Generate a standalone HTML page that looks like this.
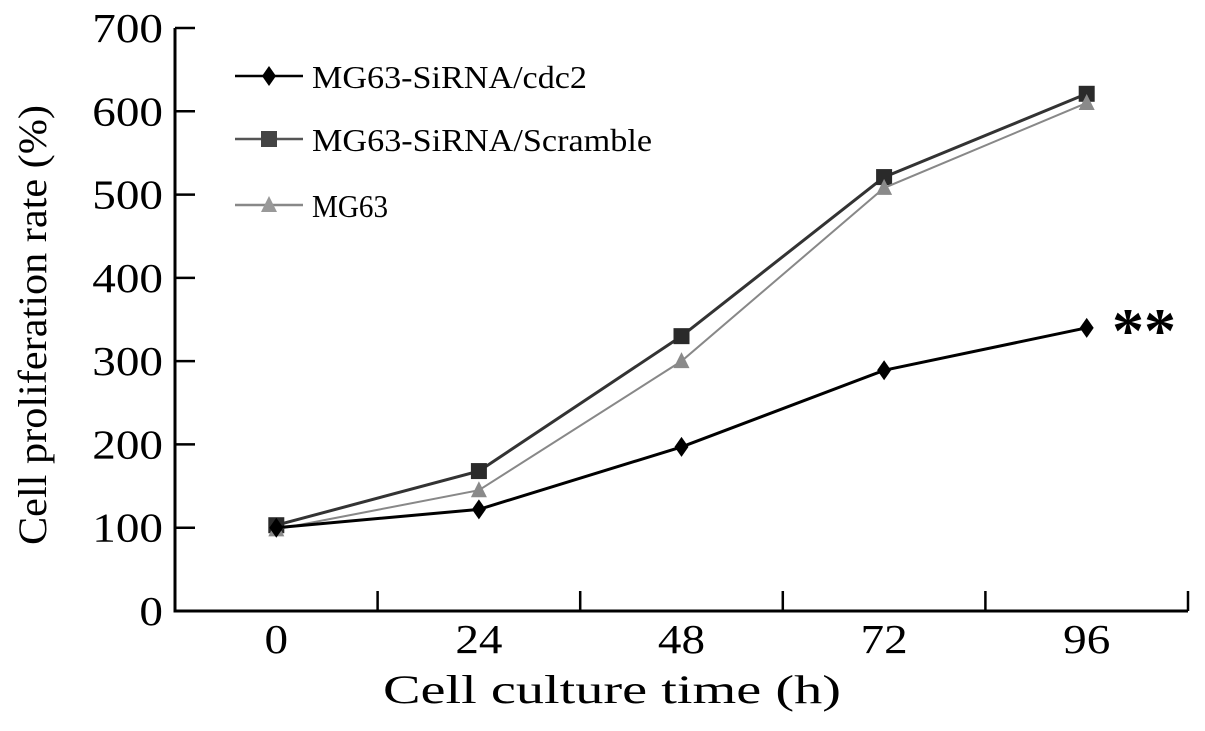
<!DOCTYPE html>
<html><head><meta charset="utf-8"><style>
html,body{margin:0;padding:0;background:#fff;}
svg{display:block;font-family:"Liberation Serif",serif;}
</style></head><body>
<svg id="chart" width="1205" height="731" viewBox="0 0 1205 731">
<g id="axes"></g><g id="series"></g><g id="legend"></g>
<text x="383" y="703" font-size="40" textLength="458" lengthAdjust="spacingAndGlyphs">Cell culture time (h)</text>
<text transform="translate(46,545) rotate(-90)" font-size="40" textLength="440" lengthAdjust="spacingAndGlyphs">Cell proliferation rate (%)</text>
<text x="1112" y="352" font-size="64" font-weight="bold">**</text>
</svg>
<script>
const categories = ["0","24","48","72","96"];
const yTicks = [0,100,200,300,400,500,600,700];
const seriesNames = ["MG63-SiRNA/cdc2","MG63-SiRNA/Scramble","MG63"];
const cdc2Values = [100,122,197,289,340];
const scrambleValues = [103,168,330,521,621];
const mg63Values = [98,145,300,508,610];

const NS="http://www.w3.org/2000/svg";
const X0=175,X1=1188,Y0=611,Y1=28;
const band=(X1-X0)/categories.length;
const xs=i=>X0+band*(i+0.5);
const ys=v=>Y0-(v/700)*(Y0-Y1);
function mk(tag,attrs,parent){const e=document.createElementNS(NS,tag);for(const k in attrs)e.setAttribute(k,attrs[k]);parent.appendChild(e);return e;}
const axes=document.getElementById('axes');
let e=mk('path',{d:`M${X0},${Y1} V${Y0} H${X1}`,fill:'none',stroke:'#000','stroke-width':3},axes);


yTicks.forEach(v=>{
  const t=mk('line',{x1:X0,x2:X0+20,y1:ys(v),y2:ys(v),stroke:'#000','stroke-width':2.5},axes);
  
  
  const l=mk('text',{x:163,y:ys(v)+14,'font-size':41,'text-anchor':'end',transform:`translate(163,0) scale(1.15,1) translate(-163,0)`},axes);
  l.textContent=v;
  
  
});
categories.forEach((c,i)=>{
  const t=mk('line',{x1:X0+band*(i+1),x2:X0+band*(i+1),y1:Y0,y2:Y0-20,stroke:'#000','stroke-width':2.5},axes);
  
  
  const cx=xs(i);
  const l=mk('text',{x:cx,y:653,'font-size':41,'text-anchor':'middle',transform:`translate(${cx},0) scale(1.15,1) translate(${-cx},0)`},axes);
  l.textContent=c;
  
  
});
function marker(type,x,y,color,parent){
  if(type==='diamond')return mk('path',{d:`M${x},${y-10} L${x+7},${y} L${x},${y+10} L${x-7},${y}Z`,fill:color},parent);
  if(type==='square')return mk('rect',{x:x-8,y:y-8,width:16,height:16,fill:color},parent);
  return mk('path',{d:`M${x},${y-9} L${x+8},${y+7} L${x-8},${y+7}Z`,fill:color},parent);
}
const defs=[
 {vals:scrambleValues,color:'#333',mcolor:'#2a2a2a',w:3,m:'square',name:'scramble'},
 {vals:mg63Values,color:'#888',mcolor:'#8a8a8a',w:2,m:'triangle',name:'mg63'},
 {vals:cdc2Values,color:'#000',mcolor:'#000',w:3,m:'diamond',name:'cdc2'}
];
const sg=document.getElementById('series');
defs.forEach(s=>{
  const p=mk('polyline',{points:s.vals.map((v,i)=>xs(i)+','+ys(v)).join(' '),fill:'none',stroke:s.color,'stroke-width':s.w},sg);
  
  
  s.vals.forEach((v,i)=>{
    const m=marker(s.m,xs(i),ys(v),s.mcolor,sg);
    
    
  });
});
const lg=document.getElementById('legend');
const legDefs=[{c:'#000',m:'diamond',mc:'#000',y:76,len:275},{c:'#555',m:'square',mc:'#444',y:139,len:340},{c:'#888',m:'triangle',mc:'#999',y:205,len:76}];
legDefs.forEach((d,i)=>{
  const l=mk('line',{x1:235,x2:303,y1:d.y,y2:d.y,stroke:d.c,'stroke-width':2.5},lg);
  
  
  const m=marker(d.m,269,d.y,d.mc,lg);
  
  
  const t=mk('text',{x:312,y:d.y+12,'font-size':32,textLength:d.len,lengthAdjust:'spacingAndGlyphs'},lg);
  t.textContent=seriesNames[i];
  
  
});
</script>
</body></html>
